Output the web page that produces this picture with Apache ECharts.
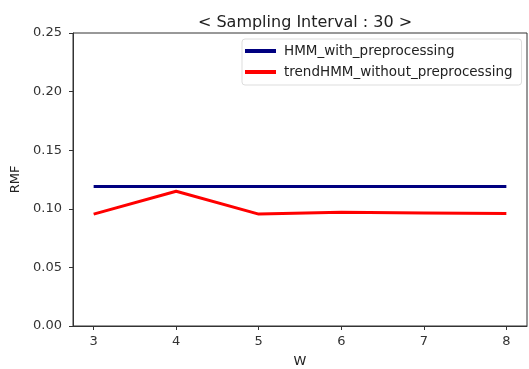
<!DOCTYPE html>
<html><head><meta charset="utf-8">
<script src="https://cdn.jsdelivr.net/npm/echarts@6/dist/echarts.min.js"></script>
<style>html,body{margin:0;padding:0;background:#fff}#c{width:529px;height:369px}</style>
</head><body><div id="c"></div>
<script>
const wValues = [3, 4, 5, 6, 7, 8];
const hmmWith = [0.119, 0.119, 0.119, 0.119, 0.119, 0.119];
const trendWithout = [0.0955, 0.115, 0.0955, 0.097, 0.0965, 0.096];
const xTicks = [3, 4, 5, 6, 7, 8];
const yTicks = [0.00, 0.05, 0.10, 0.15, 0.20, 0.25];
const seriesNames = ['HMM_with_preprocessing', 'trendHMM_without_preprocessing'];

const chart = echarts.init(document.getElementById('c'), null, {renderer: 'canvas'});
const font = 'DejaVu Sans';
chart.setOption({
  animation: false,
  backgroundColor: '#fff',
  title: {text: '< Sampling Interval : 30 >', left: 300, top: 10, textAlign: 'center',
    textStyle: {fontFamily: font, fontSize: 16, fontWeight: 'normal', color: '#222'}},
  grid: {left: 73, right: 2, top: 33, bottom: 43, outerBoundsMode: 'none', containLabel: false,
    show: true, borderColor: '#333', borderWidth: 1, backgroundColor: 'transparent'},
  legend: {
    data: seriesNames, orient: 'vertical', left: 242, top: 39,
    itemWidth: 31, itemHeight: 4, itemGap: 7, icon: 'rect',
    padding: [5, 9, 6, 3],
    borderColor: '#ddd', borderWidth: 1, borderRadius: 3,
    textStyle: {fontFamily: font, fontSize: 13.5, color: '#222', padding: [0, 0, 0, 3]}
  },
  xAxis: {
    type: 'value', min: 2.75, max: 8.25,
    name: 'W', nameLocation: 'middle', nameGap: 29,
    nameTextStyle: {fontFamily: font, fontSize: 13, color: '#222'},
    splitLine: {show: false},
    axisLine: {lineStyle: {color: '#333'}},
    axisTick: {customValues: xTicks, length: 4, lineStyle: {color: '#333'}},
    axisLabel: {customValues: xTicks, fontFamily: font, fontSize: 13, color: '#333', margin: 9}
  },
  yAxis: {
    type: 'value', min: 0, max: 0.25, interval: 0.05,
    name: 'RMF', nameLocation: 'middle', nameGap: 37, nameRotate: 90,
    nameTextStyle: {fontFamily: font, fontSize: 13, color: '#222'},
    splitLine: {show: false},
    axisLine: {show: true, lineStyle: {color: '#333'}},
    axisTick: {show: true, length: 4, lineStyle: {color: '#333'}},
    axisLabel: {fontFamily: font, fontSize: 13, color: '#333', margin: 11,
      formatter: v => v.toFixed(2)}
  },
  series: [
    {name: seriesNames[0], type: 'line', data: wValues.map((w, i) => [w, hmmWith[i]]),
      showSymbol: false, symbol: 'none', lineStyle: {color: '#000080', width: 3}, itemStyle: {color: '#000080'}},
    {name: seriesNames[1], type: 'line', data: wValues.map((w, i) => [w, trendWithout[i]]),
      showSymbol: false, symbol: 'none', lineStyle: {color: '#ff0000', width: 3}, itemStyle: {color: '#ff0000'}}
  ]
});
</script></body></html>
